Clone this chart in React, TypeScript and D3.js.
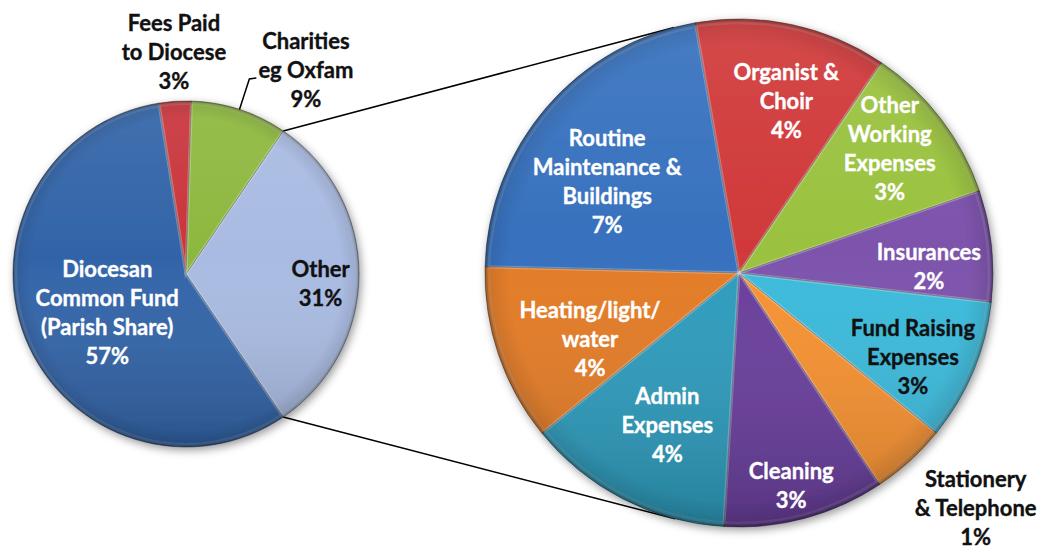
import React from "react";
import * as d3 from "d3";

// ---------- data ----------
const mainCategories = ["Other", "Diocesan Common Fund (Parish Share)", "Fees Paid to Diocese", "Charities eg Oxfam"];
const mainValues = [31, 57, 3, 9];
const mainPctLabels = ["31%", "57%", "3%", "9%"];
const mainLabelLines = [["Other"], ["Diocesan", "Common Fund", "(Parish Share)"], ["Fees Paid", "to Diocese"], ["Charities", "eg Oxfam"]];

const subCategories = [
  "Routine Maintenance & Buildings",
  "Organist & Choir",
  "Other Working Expenses",
  "Insurances",
  "Fund Raising Expenses",
  "Stationery & Telephone",
  "Cleaning",
  "Admin Expenses",
  "Heating/light/water",
];
const subValues = [6.8, 3.8, 3.2, 2.2, 2.8, 1.5, 3.2, 4.1, 3.5];
const subPctLabels = ["7%", "4%", "3%", "2%", "3%", "1%", "3%", "4%", "4%"];
const subLabelLines = [
  ["Routine", "Maintenance &", "Buildings"],
  ["Organist &", "Choir"],
  ["Other", "Working", "Expenses"],
  ["Insurances"],
  ["Fund Raising", "Expenses"],
  ["Stationery", "& Telephone"],
  ["Cleaning"],
  ["Admin", "Expenses"],
  ["Heating/light/", "water"],
];

// ---------- style ----------
const mainColors = ["#A9BBE2", "#3264A8", "#C9353B", "#8DB83F"];
const mainTextColors = ["#111", "#fff", "#111", "#111"];
const mainLabelPlace = [[4, 0.78], [-4, 0.505], [0.5, 1.29], [12.4, 1.37]]; // [angle nudge deg, radius factor]
const subColors = ["#3771BE", "#D0393A", "#9AC23F", "#7D53AC", "#3BBADB", "#F69131", "#693E9C", "#2D9BBC", "#E37B26"];
const subTextColors = ["#fff", "#fff", "#fff", "#fff", "#111", "#111", "#fff", "#fff", "#fff"];
const subLabelPlace = [[-5.8, 0.633], [3.2, 0.706], [-2.2, 0.77], [4, 0.748], [2.9, 0.76], [-3.0, 1.311], [1.25, 0.86], [-1.85, 0.66], [-4.75, 0.64]];

const W = 1042, H = 552;
const main = { cx: 186, cy: 274, r: 173 };
const sub = { cx: 739, cy: 273, r: 254 };
const LINE_H = 29;
const FONT = "Lato, 'Open Sans', sans-serif";
const FONT_SIZE = 22;
const deg = Math.PI / 180;

function polar(c: { cx: number; cy: number }, a: number, rr: number) {
  return [c.cx + rr * Math.sin(a), c.cy - rr * Math.cos(a)];
}

function tangent(px: number, py: number, c: { cx: number; cy: number; r: number }, side: number) {
  const dx = c.cx - px, dy = c.cy - py;
  const d = Math.hypot(dx, dy);
  const th = Math.atan2(dy, dx);
  const al = Math.asin(c.r / d);
  const L = Math.sqrt(d * d - c.r * c.r);
  const a = th + side * al;
  return [px + L * Math.cos(a), py + L * Math.sin(a)];
}

function Pie({ id, c, values, colors, startDeg, lines, pcts, textColors, place, leaderIdx }: any) {
  const start = startDeg * deg;
  const pie = d3.pie<number>().sort(null).value((v) => v).startAngle(start).endAngle(start + 2 * Math.PI);
  const arcs = pie(values);
  const arc = d3.arc<d3.PieArcDatum<number>>().innerRadius(0).outerRadius(c.r);
  return (
    <g>
      <g filter="url(#shadow)">
        <g transform={`translate(${c.cx},${c.cy})`}>
          {arcs.map((a, i) => (
            <path key={i} d={arc(a) || ""} fill={colors[i]} stroke="rgba(40,40,40,0.5)" strokeWidth={1} />
          ))}
          {arcs.map((a, i) => (
            <path key={"h" + i} d={arc(a) || ""} fill="none" stroke="rgba(255,255,255,0.15)" strokeWidth={3}
              transform="scale(0.985)" />
          ))}
          <circle r={c.r} fill={`url(#lin-${id})`} />
          <circle r={c.r} fill={`url(#rad-${id})`} />
        </g>
      </g>
      <defs>
        <linearGradient id={`lin-${id}`} x1="0" y1="0" x2="0" y2="1">
          <stop offset="0" stopColor="#fff" stopOpacity={0.08} />
          <stop offset="0.45" stopColor="#fff" stopOpacity={0} />
          <stop offset="1" stopColor="#000" stopOpacity={0.18} />
        </linearGradient>
        <radialGradient id={`rad-${id}`} cx="0.5" cy="0.5" r="0.5">
          <stop offset="0.9" stopColor="#000" stopOpacity={0} />
          <stop offset="0.975" stopColor="#000" stopOpacity={0.08} />
          <stop offset="1" stopColor="#000" stopOpacity={0.28} />
        </radialGradient>
      </defs>
      {arcs.map((a, i) => {
        const mid = (a.startAngle + a.endAngle) / 2;
        const [x, y] = polar(c, mid + place[i][0] * deg, c.r * place[i][1]);
        const all = [...lines[i], pcts[i]];
        const y0 = y - ((all.length - 1) * LINE_H) / 2;
        return (
          <text key={"t" + i} x={x} textAnchor="middle" fill={textColors[i]} fontFamily={FONT} fontWeight={700} fontSize={FONT_SIZE}
            stroke={textColors[i]} strokeWidth={0.35}>
            {all.map((s: string, k: number) => (
              <tspan key={k} x={x} y={y0 + k * LINE_H} dominantBaseline="central">{s}</tspan>
            ))}
          </text>
        );
      })}
      {leaderIdx != null && (() => {
        const a = arcs[leaderIdx];
        const mid = (a.startAngle + a.endAngle) / 2;
        const [x1, y1] = polar(c, mid, c.r);
        const [x2, y2] = polar(c, mid, c.r * 1.185);
        return <polyline points={`${x1},${y1} ${x2},${y2} ${x2 + 7},${y2 - 1}`} fill="none" stroke="#000" strokeWidth={1.5} />;
      })()}
    </g>
  );
}

export default function App() {
  const mainStart = 90 - (mainValues[0] / d3.sum(mainValues)) * 180;
  const otherEndDeg = mainStart + (mainValues[0] / d3.sum(mainValues)) * 360;
  const [tx, ty] = polar(main, mainStart * deg, main.r);
  const [bx, by] = polar(main, otherEndDeg * deg, main.r);
  const [t2x, t2y] = tangent(tx, ty, sub, -1);
  const [b2x, b2y] = tangent(bx, by, sub, 1);
  return (
    <svg width={W} height={H} style={{ position: "absolute", left: 0, top: 0, display: "block", background: "#fff" }}>
      <defs>
        <filter id="shadow" x="-20%" y="-20%" width="140%" height="140%">
          <feDropShadow dx={2} dy={3} stdDeviation={4} floodColor="#000" floodOpacity={0.4} />
        </filter>
      </defs>
      <line x1={tx} y1={ty} x2={t2x} y2={t2y} stroke="#000" strokeWidth={1.5} />
      <line x1={bx} y1={by} x2={b2x} y2={b2y} stroke="#000" strokeWidth={1.5} />
      <Pie id="main" c={main} values={mainValues} colors={mainColors} startDeg={mainStart}
        lines={mainLabelLines} pcts={mainPctLabels} textColors={mainTextColors} place={mainLabelPlace} leaderIdx={3} />
      <Pie id="sub" c={sub} values={subValues} colors={subColors} startDeg={271.4}
        lines={subLabelLines} pcts={subPctLabels} textColors={subTextColors} place={subLabelPlace} leaderIdx={null} />
    </svg>
  );
}
